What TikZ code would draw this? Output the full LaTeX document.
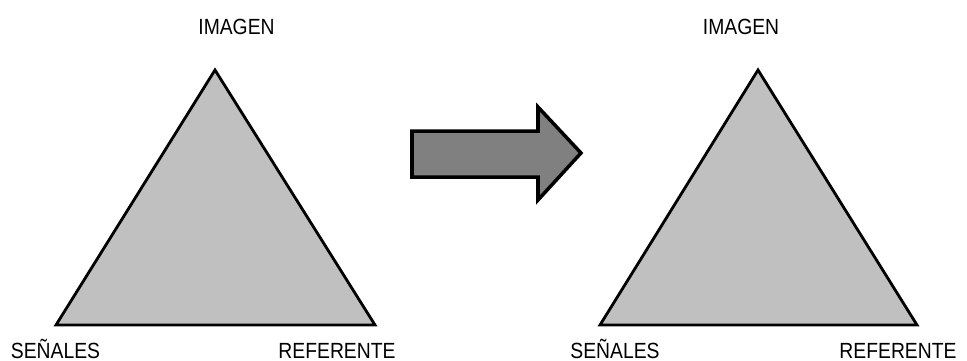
\documentclass[tikz,border=0pt]{standalone}
\usepackage{fontspec}
\setmainfont{Liberation Sans}[FakeStretch=0.88]
\usetikzlibrary{positioning}

\definecolor{trigris}{HTML}{C0C0C0}
\definecolor{flechagris}{HTML}{808080}

\tikzset{
    vertice/.style={inner sep=0pt, anchor=base, font=\fontsize{12.5}{14}\selectfont},
    triangulo/.style={draw=black, line width=1.6pt, fill=trigris, line join=miter},
    flecha/.style={draw=black, line width=2pt, fill=flechagris, line join=miter}
}

\begin{document}
\begin{tikzpicture}[x=0.02cm,y=-0.02cm]
    \useasboundingbox (0,0) rectangle (967,360);

    \coordinate (I1) at (215,70);
    \coordinate (S1) at (56,325);
    \coordinate (R1) at (375,325);
    \draw[triangulo] (I1) -- (S1) -- (R1) -- cycle;

    \coordinate (I2) at (758,70);
    \coordinate (S2) at (600,325);
    \coordinate (R2) at (917,325);
    \draw[triangulo] (I2) -- (S2) -- (R2) -- cycle;

    \node[vertice] (Img1) at (236.5,34) {IMAGEN};
    \node[vertice] (Sen1) at (55.5,358) {SEÑALES};
    \node[vertice] (Ref1) at (337,358) {REFERENTE};

    \node[vertice] (Img2) at (741,34) {IMAGEN};
    \node[vertice] (Sen2) at (615,358) {SEÑALES};
    \node[vertice] (Ref2) at (898,358) {REFERENTE};

    \draw[flecha] (412,131) -- (538,131) -- (538,107) -- (581,153)
        -- (538,200) -- (538,177) -- (412,177) -- cycle;
\end{tikzpicture}
\end{document}
